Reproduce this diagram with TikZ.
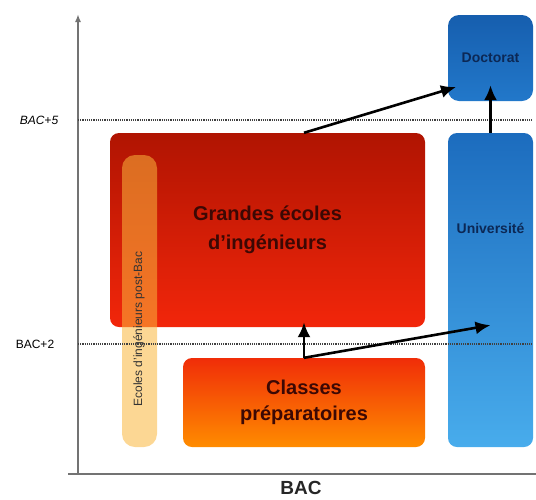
\documentclass[tikz,border=0pt]{standalone}
\usepackage{fontspec}
\setmainfont{Liberation Sans}
\usetikzlibrary{arrows.meta,calc}

\definecolor{geiTop}{RGB}{176,20,2}
\definecolor{geiBot}{RGB}{242,38,10}
\definecolor{cpTop}{RGB}{240,45,8}
\definecolor{cpBot}{RGB}{255,140,0}
\definecolor{uniTop}{RGB}{28,108,190}
\definecolor{uniBot}{RGB}{72,172,236}
\definecolor{docTop}{RGB}{22,94,174}
\definecolor{docBot}{RGB}{34,120,202}
\definecolor{barFill}{RGB}{250,182,60}
\definecolor{redText}{RGB}{60,8,4}
\definecolor{blueText}{RGB}{12,40,85}

\begin{document}
\begin{tikzpicture}[x=1pt,y=-1pt,
  box/.style={rounded corners=9pt, inner sep=0pt, align=center, font=\bfseries},
  level/.style={densely dotted, line width=1.2pt, black!75},
  axis/.style={line width=1.6pt, black!55},
  link/.style={-{Latex[length=15pt,width=13pt]}, line width=2.6pt, black}]
\useasboundingbox (0,0) rectangle (536,499);

% axes
\draw[axis,-{Latex[length=8pt,width=6pt]}] (78,474) -- (78,14);
\draw[axis] (68,474) -- (536,474);
\node[font=\bfseries\fontsize{19}{19}\selectfont, text=black!85] (bac) at (301,488) {BAC};

% boxes
\node[box, minimum width=315pt, minimum height=194pt, top color=geiTop, bottom color=geiBot,
  text=redText, font=\bfseries\fontsize{20}{29}\selectfont] (gei) at (267.5,230) {Grandes écoles\\d'ingénieurs};
\node[box, rounded corners=13pt, minimum width=35pt, minimum height=292pt, fill=barFill,
  fill opacity=0.55] (bar) at (139.5,301) {};
\node[rotate=90, font=\fontsize{12}{12}\selectfont, text=black!80] (barlab) at (139,329) {Ecoles d'ingénieurs post-Bac};
\node[box, minimum width=242pt, minimum height=89pt, top color=cpTop, bottom color=cpBot,
  text=redText, font=\bfseries\fontsize{20}{26}\selectfont] (cp) at (304,402.5) {Classes\\préparatoires};
\node[box, minimum width=85pt, minimum height=314pt, top color=uniTop, bottom color=uniBot] (univ) at (490.5,290) {};
\node[font=\bfseries\fontsize{14}{14}\selectfont, text=blueText] (univlab) at (490.5,228) {Université};
\node[box, rounded corners=11pt, minimum width=85pt, minimum height=86pt, top color=docTop, bottom color=docBot,
  text=blueText, font=\bfseries\fontsize{14}{14}\selectfont] (doc) at (490.5,58) {Doctorat};

% levels
\draw[level] (78,120) -- (533,120);
\draw[level] (78,344) -- (533,344);
\node[font=\itshape\fontsize{12}{12}\selectfont] (bac5) at (39,120) {BAC+5};
\node[font=\fontsize{12}{12}\selectfont] (bac2) at (35,344) {BAC+2};

% paths
\coordinate (docin) at (456,87);
\draw[link] (cp.north |- gei.north) -- (docin);
\draw[link] (univ.north) -- ($(doc.south)+(0,-16)$);
\draw[link] (cp.north) -- ($(cp.north |- gei.south)+(0,-5)$);
\draw[link] (cp.north) -- ($(univ.north |- gei.south)+(0,-2)$);
\end{tikzpicture}
\end{document}
